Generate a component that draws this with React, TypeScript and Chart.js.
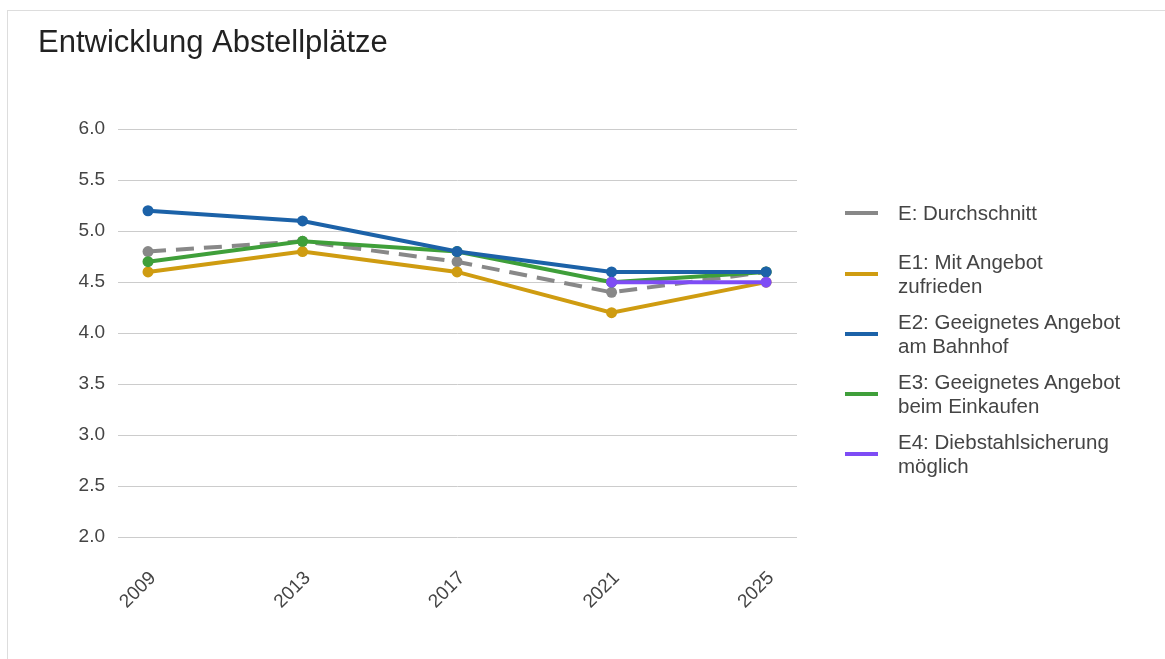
import React, { useEffect, useRef } from "react";
import { Chart, registerables } from "chart.js";

Chart.register(...registerables);

const TITLE = "Entwicklung Abstellplätze";
const YEARS = [2009, 2013, 2017, 2021, 2025];
const Y_TICKS = [2.0, 2.5, 3.0, 3.5, 4.0, 4.5, 5.0, 5.5, 6.0];

const SERIES_NAMES = [
  ["E: Durchschnitt"],
  ["E1: Mit Angebot", "zufrieden"],
  ["E2: Geeignetes Angebot", "am Bahnhof"],
  ["E3: Geeignetes Angebot", "beim Einkaufen"],
  ["E4: Diebstahlsicherung", "möglich"],
];
const SERIES_COLORS = ["#888888", "#cf9c11", "#1c62a8", "#3f9f3a", "#7e4cf5"];

const avgValues = [4.8, 4.9, 4.7, 4.4, 4.6];
const e1Values = [4.6, 4.8, 4.6, 4.2, 4.5];
const e2Values = [5.2, 5.1, 4.8, 4.6, 4.6];
const e3Values = [4.7, 4.9, 4.8, 4.5, 4.6];
const e4Values = [null, null, null, 4.5, 4.5];

const SERIES_VALUES = [avgValues, e1Values, e2Values, e3Values, e4Values];
const DRAW_ORDER = [4, 3, 1, 2, 0];

const FONT = "'Liberation Sans', Arial, Helvetica, sans-serif";
const LEGEND_TOPS = [190, 239, 299, 359, 419];

export default function App() {
  const canvasRef = useRef<HTMLCanvasElement | null>(null);

  useEffect(() => {
    if (!canvasRef.current) return;
    const datasets = SERIES_VALUES.map((vals, i) => ({
      label: SERIES_NAMES[i].join(" "),
      data: YEARS.map((y, j) => ({ x: y, y: vals[j] })),
      borderColor: SERIES_COLORS[i],
      backgroundColor: SERIES_COLORS[i],
      pointBackgroundColor: SERIES_COLORS[i],
      pointBorderColor: SERIES_COLORS[i],
      borderWidth: 4,
      pointRadius: 5.5,
      pointBorderWidth: 0,
      borderDash: i === 0 ? [18, 10] : [],
      tension: 0,
      order: DRAW_ORDER[i],
    }));
    const chart = new Chart(canvasRef.current, {
      type: "line",
      data: { datasets },
      options: {
        animation: false,
        responsive: false,
        maintainAspectRatio: false,
        layout: { padding: { left: 30, right: 368, top: 0, bottom: 0 } },
        plugins: {
          legend: { display: false },
          tooltip: { enabled: false },
          title: {
            display: true,
            text: TITLE,
            align: "start",
            color: "#222222",
            font: { family: FONT, size: 31, weight: "normal" },
            padding: { top: 14, bottom: 67 },
          },
        },
        scales: {
          x: {
            type: "linear",
            min: 2008.223,
            max: 2025.8,
            afterBuildTicks: (scale: any) => {
              scale.ticks = YEARS.map((v) => ({ value: v }));
            },
            afterFit: (scale: any) => {
              scale.height = 122;
            },
            grid: { display: false },
            border: { display: false },
            ticks: {
              minRotation: 45,
              maxRotation: 45,
              autoSkip: false,
              padding: 22,
              labelOffset: 5,
              color: "#444444",
              font: { family: FONT, size: 19 },
              callback: (v: any) => String(v),
            },
          },
          y: {
            min: 2,
            max: 6,
            afterBuildTicks: (scale: any) => {
              scale.ticks = Y_TICKS.map((v) => ({ value: v }));
            },
            afterFit: (scale: any) => {
              scale.width = 80;
            },
            grid: { color: "#cccccc", lineWidth: 1, drawTicks: false },
            border: { display: false },
            ticks: {
              padding: 13,
              color: "#444444",
              font: { family: FONT, size: 19 },
              callback: (v: any) => Number(v).toFixed(1),
            },
          },
        },
      },
    });
    return () => chart.destroy();
  }, []);

  return (
    <div style={{ position: "fixed", inset: 0, overflow: "hidden", background: "#fff" }}>
      <div
        style={{
          position: "absolute",
          left: 7,
          top: 10,
          width: 1200,
          height: 700,
          border: "1px solid #dddddd",
          boxSizing: "border-box",
        }}
      >
        <canvas
          ref={canvasRef}
          width={1157}
          height={648}
          style={{ position: "absolute", left: 0, top: 0, width: 1157, height: 648 }}
        />
        {SERIES_NAMES.map((lines, i) => (
          <div
            key={i}
            style={{
              position: "absolute",
              left: 837,
              top: LEGEND_TOPS[i],
              display: "flex",
              alignItems: "center",
              fontFamily: FONT,
              fontSize: 20.5,
              lineHeight: "24px",
              color: "#444444",
            }}
          >
            <div style={{ width: 33, height: 4, background: SERIES_COLORS[i], marginRight: 20 }} />
            <div>
              {lines.map((t, k) => (
                <div key={k}>{t}</div>
              ))}
            </div>
          </div>
        ))}
      </div>
    </div>
  );
}
